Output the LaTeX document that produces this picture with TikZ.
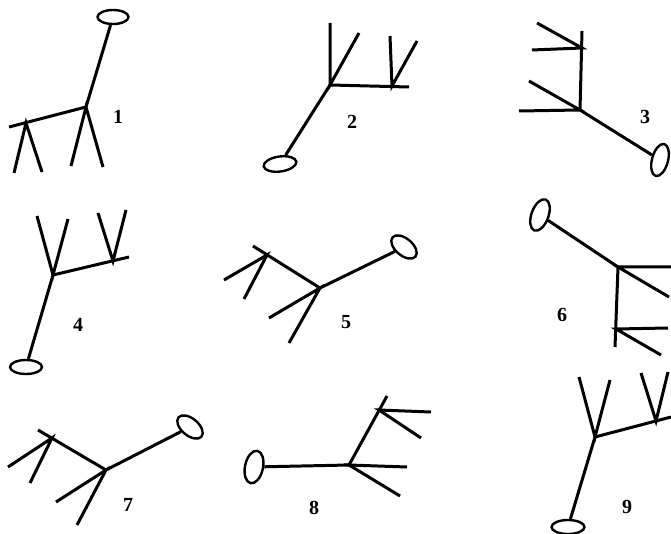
\documentclass[tikz,border=0pt]{standalone}
\usepackage{fontspec}
\setmainfont{Liberation Serif}
\usetikzlibrary{shapes.geometric}
\begin{document}
\begin{tikzpicture}[x=1pt,y=-1pt,
  stick/.style={line width=3pt, line cap=butt},
  blob/.style={draw, ellipse, line width=2.4pt, inner sep=0pt, minimum width=#1},
  lab/.style={font=\bfseries\fontsize{20}{20}\selectfont, inner sep=0pt}]
\useasboundingbox (0,0) rectangle (671,534);
% ---------- 1
\node[blob=31pt, minimum height=14pt] (e1) at (113,17) {};
\coordinate (j1a) at (86,107); \coordinate (j1b) at (26,123);
\coordinate (b1) at (9,127);
\coordinate (l1a) at (71,166); \coordinate (l1b) at (103,167);
\coordinate (l1c) at (14,173); \coordinate (l1d) at (42,172);
\draw[stick] (e1) -- (j1a) -- (b1);
\draw[stick] (l1a) -- (j1a) -- (l1b);
\draw[stick] (l1c) -- (j1b) -- (l1d);
\node[lab] (n1) at (118,117) {1};
% ---------- 2
\node[blob=33pt, minimum height=15pt, rotate=8] (e2) at (280,164) {};
\coordinate (j2a) at (330,85); \coordinate (j2b) at (392,86);
\coordinate (b2) at (409,87);
\coordinate (l2a) at (330,23); \coordinate (l2b) at (359,33);
\coordinate (l2c) at (390,36); \coordinate (l2d) at (417,41);
\draw[stick] (e2) -- (j2a) -- (b2);
\draw[stick] (l2a) -- (j2a) -- (l2b);
\draw[stick] (l2c) -- (j2b) -- (l2d);
\node[lab] (n2) at (352,122) {2};
% ---------- 3
\node[blob=16pt, minimum height=33pt, rotate=-15] (e3) at (660,160) {};
\coordinate (j3a) at (580,110); \coordinate (j3b) at (582,48);
\coordinate (t3) at (582,31);
\coordinate (l3a) at (532,50); \coordinate (l3b) at (537,23);
\coordinate (l3c) at (519,111); \coordinate (l3d) at (529,81);
\draw[stick] (e3) -- (j3a) -- (t3);
\draw[stick] (l3a) -- (j3b) -- (l3b);
\draw[stick] (l3c) -- (j3a) -- (l3d);
\node[lab] (n3) at (645,117) {3};
% ---------- 4
\node[blob=32pt, minimum height=14pt] (e4) at (26,367) {};
\coordinate (j4a) at (53,275); \coordinate (j4b) at (113,261);
\coordinate (b4) at (129,257);
\coordinate (l4a) at (37,216); \coordinate (l4b) at (68,219);
\coordinate (l4c) at (98,213); \coordinate (l4d) at (126,210);
\draw[stick] (e4) -- (j4a) -- (b4);
\draw[stick] (l4a) -- (j4a) -- (l4b);
\draw[stick] (l4c) -- (j4b) -- (l4d);
\node[lab] (n4) at (78,325) {4};
% ---------- 5
\node[blob=30pt, minimum height=17pt, rotate=-40] (e5) at (404,247) {};
\coordinate (j5a) at (320,288); \coordinate (j5b) at (267,255);
\coordinate (b5) at (253,246);
\coordinate (l5a) at (269,318); \coordinate (l5b) at (289,343);
\coordinate (l5c) at (224,280); \coordinate (l5d) at (244,299);
\draw[stick] (e5) -- (j5a) -- (b5);
\draw[stick] (l5a) -- (j5a) -- (l5b);
\draw[stick] (l5c) -- (j5b) -- (l5d);
\node[lab] (n5) at (346,322) {5};
% ---------- 6
\node[blob=17pt, minimum height=33pt, rotate=-20] (e6) at (540,215) {};
\coordinate (j6a) at (618,267); \coordinate (j6b) at (616,329);
\coordinate (t6) at (615,347);
\coordinate (l6a) at (671,267); \coordinate (l6b) at (669,297);
\coordinate (l6c) at (668,328); \coordinate (l6d) at (661,355);
\draw[stick] (e6) -- (j6a) -- (t6);
\draw[stick] (l6a) -- (j6a) -- (l6b);
\draw[stick] (l6c) -- (j6b) -- (l6d);
\node[lab] (n6) at (562,315) {6};
% ---------- 7
\node[blob=30pt, minimum height=17pt, rotate=-40] (e7) at (190,427) {};
\coordinate (j7a) at (106,470); \coordinate (j7b) at (52,438);
\coordinate (b7) at (38,430);
\coordinate (l7a) at (56,502); \coordinate (l7b) at (77,525);
\coordinate (l7c) at (8,467); \coordinate (l7d) at (30,483);
\draw[stick] (e7) -- (j7a) -- (b7);
\draw[stick] (l7a) -- (j7a) -- (l7b);
\draw[stick] (l7c) -- (j7b) -- (l7d);
\node[lab] (n7) at (128,505) {7};
% ---------- 8
\node[blob=18pt, minimum height=33pt, rotate=-12] (e8) at (254,467) {};
\coordinate (j8a) at (349,465); \coordinate (j8b) at (379,410);
\coordinate (b8) at (387,396);
\coordinate (l8a) at (407,467); \coordinate (l8b) at (400,496);
\coordinate (l8c) at (431,412); \coordinate (l8d) at (421,438);
\draw[stick] (e8) -- (j8a) -- (b8);
\draw[stick] (l8a) -- (j8a) -- (l8b);
\draw[stick] (l8c) -- (j8b) -- (l8d);
\node[lab] (n8) at (314,508) {8};
% ---------- 9
\node[blob=33pt, minimum height=14pt] (e9) at (568,527) {};
\coordinate (j9a) at (595,437); \coordinate (j9b) at (656,421);
\coordinate (b9) at (671,417);
\coordinate (l9a) at (579,377); \coordinate (l9b) at (610,380);
\coordinate (l9c) at (641,373); \coordinate (l9d) at (668,372);
\draw[stick] (e9) -- (j9a) -- (b9);
\draw[stick] (l9a) -- (j9a) -- (l9b);
\draw[stick] (l9c) -- (j9b) -- (l9d);
\node[lab] (n9) at (627,507) {9};
\end{tikzpicture}
\end{document}
